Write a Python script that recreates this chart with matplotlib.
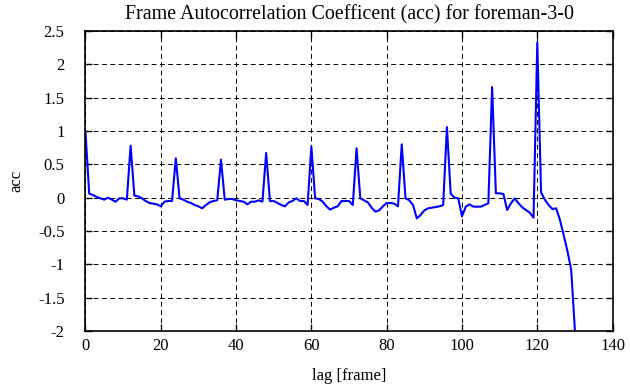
import numpy as np
import matplotlib
matplotlib.use('Agg')
from matplotlib import pyplot as plt

# acc values, lag 0..130
lags = np.arange(0, 131)
acc = [
    1.00, 0.06, 0.04, 0.01, -0.01, -0.03, 0.00, -0.03, -0.06, -0.01,
    -0.01, -0.03, 0.78, 0.03, 0.02, -0.01, -0.05, -0.08, -0.09, -0.10,
    -0.13, -0.06, -0.05, -0.05, 0.59, -0.01, -0.03, -0.06, -0.08, -0.11,
    -0.13, -0.16, -0.11, -0.07, -0.05, -0.04, 0.57, -0.03, -0.02, -0.02,
    -0.04, -0.05, -0.06, -0.10, -0.06, -0.06, -0.04, -0.06, 0.67, -0.05,
    -0.05, -0.08, -0.11, -0.13, -0.07, -0.05, -0.01, -0.05, -0.05, -0.11,
    0.77, -0.01, -0.02, -0.06, -0.13, -0.18, -0.15, -0.13, -0.05, -0.05,
    -0.05, -0.11, 0.74, -0.01, -0.04, -0.07, -0.15, -0.21, -0.19, -0.13,
    -0.08, -0.08, -0.09, -0.13, 0.80, -0.01, -0.04, -0.11, -0.31, -0.26,
    -0.19, -0.16, -0.15, -0.14, -0.13, -0.11, 1.06, 0.06, 0.00, -0.01,
    -0.28, -0.135, -0.10, -0.135, -0.135, -0.135, -0.11, -0.085, 1.66, 0.065,
    0.065, 0.055, -0.185, -0.085, -0.01, -0.085, -0.145, -0.185, -0.225, -0.30,
    2.33, 0.08, -0.03, -0.11, -0.17, -0.16, -0.33, -0.56, -0.80, -1.08,
    -2.00,
]

xticks = [0, 20, 40, 60, 80, 100, 120, 140]
yticks = [-2, -1.5, -1, -0.5, 0, 0.5, 1, 1.5, 2, 2.5]
ytick_labels = ['-2', '-1.5', '-1', '-0.5', '0', '0.5', '1', '1.5', '2', '2.5']

plt.rcParams['font.family'] = ['Liberation Serif', 'DejaVu Serif']
plt.rcParams['font.size'] = 12

fig = plt.figure(figsize=(6.3, 3.87), dpi=100)
ax = fig.add_axes([0.1356, 0.1447, 0.8368, 0.7752])

ax.plot(lags, acc, color='#0000ff', linewidth=1.5, clip_on=True)

ax.set_xlim(0, 140)
ax.set_ylim(-2, 2.5)
ax.set_xticks(xticks)
ax.set_yticks(yticks)
ax.set_yticklabels(ytick_labels)
ax.grid(True, color='black', linestyle=(0, (5, 3.5)), linewidth=0.7)
ax.tick_params(direction='in', top=True, right=True, length=5, width=1.0)
ax.tick_params(axis='y', pad=15)
ax.tick_params(axis='x', pad=5)
for s in ax.spines.values():
    s.set_linewidth(1.2)

ax.set_xlabel('lag [frame]', labelpad=10)
ax.set_ylabel('acc', labelpad=10)
ax.set_title('Frame Autocorrelation Coefficent (acc) for foreman-3-0', pad=8)

fig.savefig('out.png', dpi=100)
